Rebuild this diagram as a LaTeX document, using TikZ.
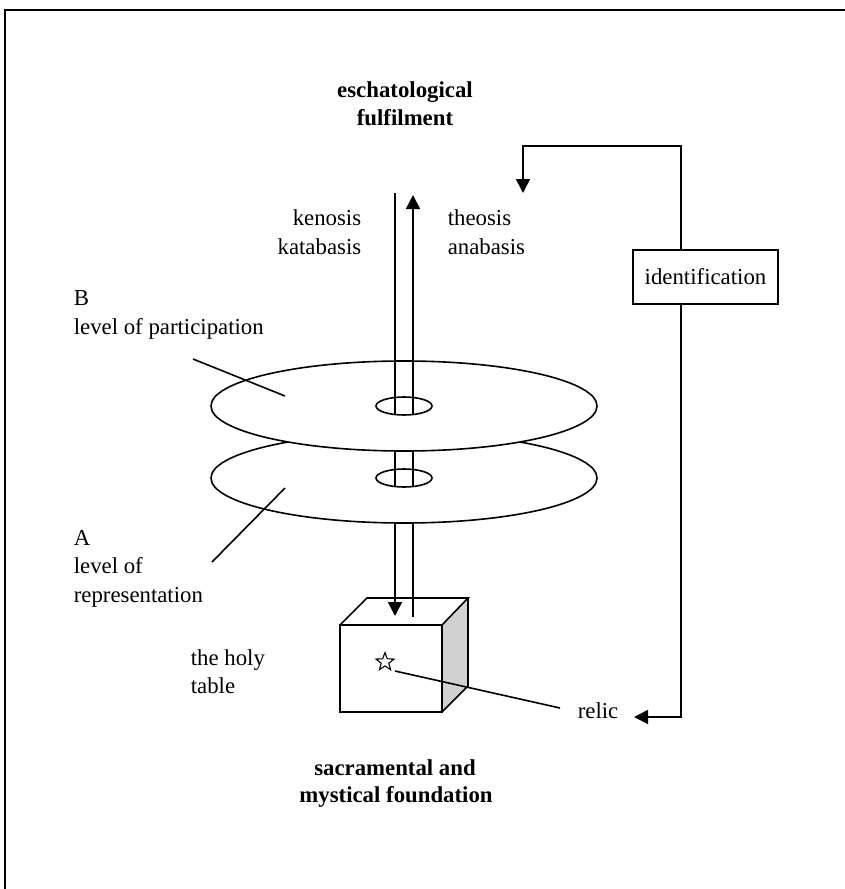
\documentclass[tikz,border=0pt]{standalone}
\usepackage{fontspec}
\setmainfont{Liberation Serif}
\usetikzlibrary{arrows.meta,shapes.geometric}
\definecolor{sideface}{gray}{0.82}
\begin{document}
\begin{tikzpicture}[x=1pt,y=-1pt,
  line width=1.6pt,
  txt/.style={inner sep=0pt,font=\fontsize{22.8}{29}\selectfont},
  hd/.style={inner sep=0pt,font=\fontsize{22.8}{29}\selectfont\bfseries},
  arr/.style={-{Triangle[length=14pt,width=14pt]}},
  disc/.style={ellipse,draw,fill=white,inner sep=0pt,minimum width=386pt,minimum height=90pt},
  hole/.style={ellipse,draw,inner sep=0pt,minimum width=56pt,minimum height=18pt},
]
\useasboundingbox (0,0) rectangle (845,889);
% frame
\draw[line width=1.8pt] (5,889) -- (5,10) -- (845,10);

% holy table (cube)
\coordinate (fa) at (340,625);
\coordinate (fb) at (442,625);
\coordinate (fc) at (442,712);
\coordinate (fd) at (340,712);
\coordinate (ba) at (367,598);
\coordinate (bb) at (468,598);
\coordinate (bc) at (468,686);
\fill[sideface] (fb) -- (bb) -- (bc) -- (fc) -- cycle;
\draw[line join=miter] (fa) -- (fb) -- (fc) -- (fd) -- cycle;
\draw[line join=miter] (fa) -- (ba) -- (bb) -- (fb);
\draw[line join=miter] (bb) -- (bc) -- (fc);

% shaft below the lower disc
\coordinate (dl1) at (395,478);
\coordinate (dr1) at (413,478);
\coordinate (tipDown) at (395,616);
\coordinate (endUp) at (413,617);
\draw[arr] (dl1) -- (tipDown);
\draw (dr1) -- (endUp);

% level A
\node[disc] (discA) at (404,478) {};
\node[hole] (holeA) at (404,478) {};
\coordinate (ml1) at (395,440);
\coordinate (ml2) at (395,487);
\coordinate (mr1) at (413,440);
\coordinate (mr2) at (413,487);
\draw (ml1) -- (ml2);
\draw (mr1) -- (mr2);

% level B
\node[disc] (discB) at (404,406) {};
\node[hole] (holeB) at (404,406) {};
\coordinate (ul1) at (395,415);
\coordinate (ul2) at (395,193);
\coordinate (ur1) at (413,415);
\coordinate (ur2) at (413,195);
\draw (ul1) -- (ul2);
\draw[arr] (ur1) -- (ur2);

% relic
\node[star,star points=5,star point ratio=2.4,draw,line width=1.1pt,inner sep=0pt,minimum size=19pt] (star) at (385,662) {};
\coordinate (starEnd) at (395,671);
\coordinate (relicEnd) at (560,708);
\draw (starEnd) -- (relicEnd);
\node[txt,anchor=base west] (relic) at (577,718) {relic};

% identification loop
\node[draw,txt,minimum width=145pt,minimum height=54pt] (ident) at (705.5,277) {identification};
\coordinate (vl) at (681,0);
\coordinate (c1) at (681,146);
\coordinate (c2) at (523,146);
\coordinate (topTip) at (523,193);
\coordinate (c3) at (681,717);
\coordinate (relicTip) at (634,717);
\draw[arr,line join=miter] (ident.north -| vl) -- (c1) -- (c2) -- (topTip);
\draw[arr,line join=miter] (ident.south -| vl) -- (c3) -- (relicTip);

% pointer lines to the levels
\coordinate (pB1) at (193,359);
\coordinate (pB2) at (285,396);
\coordinate (pA1) at (212,562);
\coordinate (pA2) at (285,488);
\draw (pB1) -- (pB2);
\draw (pA1) -- (pA2);

% labels
\node[hd,anchor=base] (esch1) at (405,97) {eschatological};
\node[hd,anchor=base] (esch2) at (405,125) {fulfilment};
\node[txt,anchor=base east] (ken) at (362,225) {kenosis};
\node[txt,anchor=base east] (kat) at (362,254) {katabasis};
\node[txt,anchor=base west] (theo) at (447,225) {theosis};
\node[txt,anchor=base west] (ana) at (447,254) {anabasis};
\node[txt,anchor=base west] (labB) at (73,305) {B};
\node[txt,anchor=base west] (labB2) at (73,334) {level of participation};
\node[txt,anchor=base west] (labA) at (73,545) {A};
\node[txt,anchor=base west] (labA2) at (73,573) {level of};
\node[txt,anchor=base west] (labA3) at (73,602) {representation};
\node[txt,anchor=base west] (holy1) at (190,665) {the holy};
\node[txt,anchor=base west] (holy2) at (190,693) {table};
\node[hd,anchor=base] (sac1) at (395,775) {sacramental and};
\node[hd,anchor=base] (sac2) at (396,802) {mystical foundation};
\end{tikzpicture}
\end{document}
